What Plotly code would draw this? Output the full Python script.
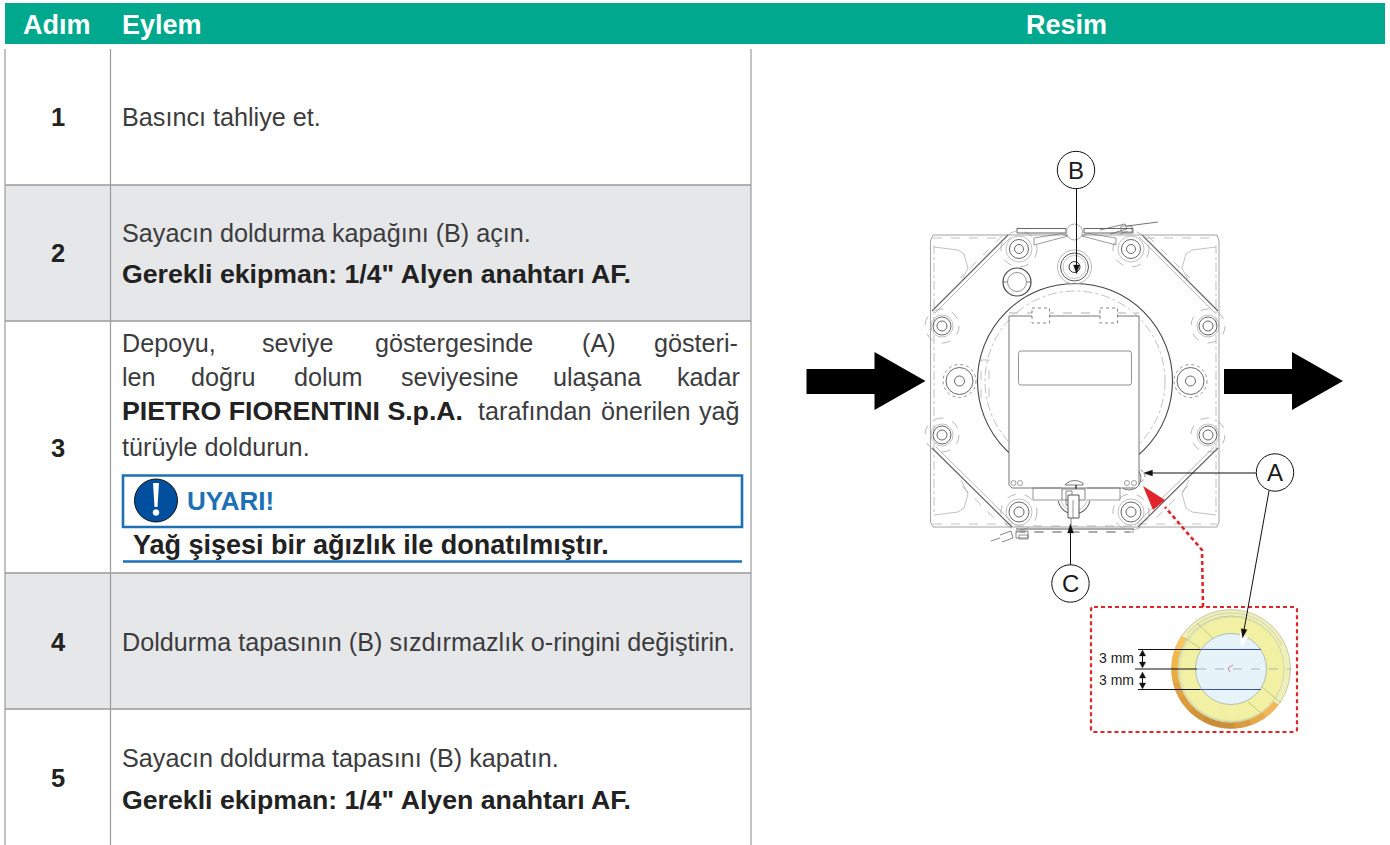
import numpy as np
import plotly.graph_objects as go

W, H = 1390, 845
FONT = "Liberation Sans"
INK = "#3c3c3e"
GREEN = "#00A88E"
BAND = "#E6E7E9"
RULE = "#9b9b9b"
BLUE = "#1E70B4"
RED = "#E1262B"
DRAW = "#6f6f6f"
DASH = "#a6a6a6"

header_labels = ["Adım", "Eylem", "Resim"]
step_labels = ["1", "2", "3", "4", "5"]
row_edges = [185, 321, 573, 709]

plain_lines = [
    ("Basıncı tahliye et.", 122, 117, False),
    ("Sayacın doldurma kapağını (B) açın.", 122, 233, False),
    ('Gerekli ekipman: 1/4" Alyen anahtarı AF.', 122, 274, True),
    ("türüyle doldurun.", 122, 447, False),
    ("Doldurma tapasının (B) sızdırmazlık o-ringini değiştirin.", 122, 642, False),
    ("Sayacın doldurma tapasını (B) kapatın.", 122, 758, False),
    ('Gerekli ekipman: 1/4" Alyen anahtarı AF.', 122, 800, True),
]
justified_words = [
    ("Depoyu,", 122, 343, False), ("seviye", 262, 343, False), ("göstergesinde", 375, 343, False),
    ("(A)", 582, 343, False), ("gösteri-", 654, 343, False),
    ("len", 122, 377, False), ("doğru", 191, 377, False), ("dolum", 294, 377, False),
    ("seviyesine", 401, 377, False), ("ulaşana", 553, 377, False), ("kadar", 677, 377, False),
    ("PIETRO FIORENTINI S.p.A.", 122, 411, True), ("tarafından", 478, 411, False),
    ("önerilen", 601, 411, False), ("yağ", 699, 411, False),
]
warning_title = "UYARI!"
warning_text = "Yağ şişesi bir ağızlık ile donatılmıştır."
callouts = ["A", "B", "C"]
gauge_label = "3 mm"

shapes, notes = [], []


def line(x0, y0, x1, y1, color=DRAW, width=0.8, dash="solid"):
    shapes.append(dict(type="line", xref="x", yref="y", x0=x0, y0=y0, x1=x1, y1=y1,
                       line=dict(color=color, width=width, dash=dash)))


def rect(x0, y0, x1, y1, fill=None, color=None, width=0, dash="solid"):
    shapes.append(dict(type="rect", xref="x", yref="y", x0=x0, y0=y0, x1=x1, y1=y1,
                       fillcolor=fill or "rgba(0,0,0,0)",
                       line=dict(color=color or "rgba(0,0,0,0)", width=width, dash=dash)))


def circle(cx, cy, r, color=DRAW, width=0.8, dash="solid", fill=None):
    shapes.append(dict(type="circle", xref="x", yref="y", x0=cx - r, y0=cy - r, x1=cx + r, y1=cy + r,
                       fillcolor=fill or "rgba(0,0,0,0)",
                       line=dict(color=color, width=width, dash=dash)))


def poly(points, color=DRAW, width=0.8, dash="solid", fill=None, close=False):
    d = "M" + " L".join(f"{x:.2f},{y:.2f}" for x, y in points) + (" Z" if close else "")
    shapes.append(dict(type="path", xref="x", yref="y", path=d,
                       fillcolor=fill or "rgba(0,0,0,0)",
                       line=dict(color=color if width else "rgba(0,0,0,0)", width=width, dash=dash)))


def arc(cx, cy, r, a0, a1, n=36):
    t = np.radians(np.linspace(a0, a1, n))
    return list(zip(cx + r * np.cos(t), cy - r * np.sin(t)))


def text(s, x, y, size=25, bold=False, color=INK, anchor="left"):
    notes.append(dict(xref="x", yref="y", x=x, y=y, text=f"<b>{s}</b>" if bold else s, showarrow=False,
                      xanchor=anchor, yanchor="middle",
                      font=dict(family=FONT, size=size, color=color),
                      borderpad=0, borderwidth=0))


def mirror(x):
    return 2150 - x


def arrowhead(tx, ty, ux, uy, length=9, half=3, color="#111111"):
    px, py = -uy, ux
    poly([(tx, ty), (tx - ux * length + px * half, ty - uy * length + py * half),
          (tx - ux * length - px * half, ty - uy * length - py * half)],
         color=color, width=0.3, fill=color, close=True)


# ---- table ----
rect(5, 3, 1385, 44, fill=GREEN)
rect(5, row_edges[0], 751, row_edges[1], fill=BAND)
rect(5, row_edges[2], 751, row_edges[3], fill=BAND)
for y in row_edges:
    line(5, y, 751, y, RULE, 1.6)
for x in (5, 110.5, 751):
    line(x, 49, x, H, RULE, 1.2)

text(header_labels[0], 57, 25, 27, True, "white", "center")
text(header_labels[1], 122, 25, 27, True, "white")
text(header_labels[2], 1066, 25, 27, True, "white", "center")
for s, y in zip(step_labels, [117, 253, 448, 642, 778]):
    text(s, 58, y, 25.5, True, "#222222", "center")
for s, x, y, b in plain_lines + justified_words:
    text(s, x, y, 26.7 if b else 25.2, b, "#222222" if b else INK)

# ---- warning ----
rect(123, 475.5, 742, 527, color=BLUE, width=2.6)
circle(156, 500.5, 21.5, "#111111", 1, fill="#004F9F")
poly([(153, 483), (159, 483), (157.5, 507), (154.5, 507)], width=0, fill="white", close=True)
circle(156, 512.5, 3, "white", 0.5, fill="white")
text(warning_title, 187, 501, 26, True, BLUE)
text(warning_text, 133, 545, 27, True, "#222222")
line(123, 561.5, 742, 561.5, BLUE, 2.6)

# ---- flow arrows ----
for x0 in (806.5, 1224):
    poly([(x0, 369), (x0 + 68, 369), (x0 + 68, 352), (x0 + 119, 381), (x0 + 68, 410),
          (x0 + 68, 394), (x0, 394)], width=0, fill="black", close=True)

# ---- meter body ----
poly([(930.5, 241), (933, 235), (1217, 235), (1219, 241), (1219, 522), (1217, 527), (933, 527), (930.5, 522)],
     color="#8a8a8a", close=True)
line(933, 238, 1004, 238, DASH, 0.7, "dash")
line(1146, 238, 1217, 238, DASH, 0.7, "dash")
line(933, 524, 1012, 524, DASH, 0.7, "dash")
line(1138, 524, 1217, 524, DASH, 0.7, "dash")
line(934, 245, 934, 515, DASH, 0.7, "dashdot")
line(1216, 245, 1216, 515, DASH, 0.7, "dashdot")

for sign in (0, 1):
    m = (lambda x: mirror(x)) if sign else (lambda x: x)
    # chamfers, top
    line(m(1008), 235, m(932), 311, "#666666", 1.2)
    line(m(1011), 237, m(935), 313, DASH, 0.8)
    line(m(1002), 236, m(960), 278, DASH, 0.7, "dash")
    # chamfers, bottom
    line(m(932), 448, m(1012), 527, "#666666", 1.2)
    line(m(936), 447, m(1015), 525, DASH, 0.8)
    line(m(962), 486, m(1000), 524, DASH, 0.7, "dash")
    # corner pockets
    poly([(m(934), 247), (m(958), 250), (m(964), 254), (m(968), 268), (m(961), 282)], color=DASH, width=0.7)
    poly([(m(934), 515), (m(958), 512), (m(964), 508), (m(968), 494), (m(961), 480)], color=DASH, width=0.7)
    # side bolts and middle bolts
    for cy in (326, 435):
        circle(m(942), cy, 5, "#555555", 0.9)
        circle(m(942), cy, 9, "#555555", 0.9)
        circle(m(942), cy, 11, DASH, 0.7)
        circle(m(942), cy, 17, DASH, 0.8, "dash")
    circle(m(959.5), 381, 16.5, "#777777", 0.8, "dot")
    circle(m(959.5), 381, 13.5, "#555555", 0.9)
    circle(m(959.5), 381, 5, "#555555", 0.9)
    # cover screws
    circle(m(1019), 249, 4.5, "#555555", 0.9)
    circle(m(1019), 249, 9.5, "#555555", 0.9)
    circle(m(1019), 249, 13, DASH, 0.7)
    circle(m(1019), 249, 18, DASH, 0.8, "dash")
    circle(m(1019), 512, 5, "#555555", 0.9)
    circle(m(1019), 512, 10, "#555555", 0.9)
    circle(m(1019), 512, 13, DASH, 0.7)
    circle(m(1019), 512, 18, DASH, 0.8, "dash")
    # top clips: a flat tube and a tapered spring below it
    rect(m(1017), 228.5, m(1066), 233, color="#555555", width=0.9)
    poly([(m(1034), 238), (m(1062), 233.5), (m(1068), 236), (m(1034), 245)], color=DRAW, width=0.7)
    line(m(1034), 238, m(1034), 245, DRAW, 0.7)
    line(m(1016), 532, m(1130), 532, DRAW, 0.7, "dash")

line(1016, 529, 1134, 529, "#555555", 1.0)
line(1015, 526, 1135, 526, DASH, 0.8, "dash")

# big cover
circle(1075, 381, 97.5, "#444444", 1.1, fill="white")
circle(1075, 381, 90, DASH, 0.7, "dashdot")
rect(981, 360, 989, 398, color=DASH, width=0.7, dash="dash")

# fill plug and side plug
circle(1074.5, 267, 17, DASH, 0.8)
circle(1074.5, 267, 14, "#555555", 1.0, fill="white")
circle(1074.5, 267, 11.5, "#999999", 0.6)
circle(1074.5, 267, 5.5, "#333333", 1.0)
circle(1017, 282, 14, "#444444", 1.2, fill="white")
circle(1017, 282, 9.5, "#777777", 0.8)
line(1003, 282, 1007, 282, "#555555", 0.8)
line(1027, 282, 1031, 282, "#555555", 0.8)

# nameplate
circle(1129, 476, 9, "#777777", 0.7, "dot")
circle(1129, 478, 12, "#555555", 0.8)
poly([(1009, 316), (1009, 485), (1012, 488), (1136, 488), (1139, 485), (1139, 316), (1009, 316)],
     color="#666666", width=0.9, fill="white", close=True)
line(1009, 313, 1139, 313, DASH, 0.9, "dash")
for x0 in (1032, 1100):
    rect(x0, 308, x0 + 17.5, 323, fill="white", color="#666666", width=0.8, dash="dot")
shapes.append(dict(type="path", xref="x", yref="y",
                   path="M1021,351 L1129,351 Q1131.5,351 1131.5,353.5 L1131.5,382.5 Q1131.5,385 1129,385 "
                        "L1021,385 Q1018.5,385 1018.5,382.5 L1018.5,353.5 Q1018.5,351 1021,351 Z",
                   line=dict(color="#777777", width=0.8)))
for x in (1013.5, 1020, 1127, 1134):
    circle(x, 483, 2.5, "#777777", 0.7)

# side hole with level glass
poly(arc(1139, 476, 6, 75, -75, 10), color="#666666", width=0.8, dash="dot")

# valve and bottom hardware
line(1033, 488, 1062, 488, DRAW, 0.7)
line(1087, 488, 1120, 488, DRAW, 0.7)
line(1033, 500, 1062, 500, DRAW, 0.7)
line(1087, 500, 1120, 500, DRAW, 0.7)
line(1033, 488, 1033, 500, DRAW, 0.7)
line(1120, 488, 1120, 500, DRAW, 0.7)
poly(arc(1074, 498, 16, 190, 350, 16), color="#666666", width=1.1)
poly(arc(1074, 498, 13, 190, 350, 16), color=DASH, width=0.7)
shapes.append(dict(type="path", xref="x", yref="y",
                   path="M1067,483 Q1074,478 1083,483 L1083,485 L1065,485 Z",
                   fillcolor="white", line=dict(color="#555555", width=0.8)))
line(1076, 485, 1076, 491, "#444444", 1.6)
rect(1062, 489, 1085, 500, fill="white", color="#666666", width=0.8)
rect(1066, 491, 1072, 505, color="#555555", width=0.7)
rect(1068, 495, 1079, 518, fill="white", color="#444444", width=0.9)
line(1073, 500, 1073, 518, "#666666", 0.7)
line(1071, 518, 1071, 525, "#666666", 0.8)

# clips on the outside
poly([(1100, 230), (1125, 224), (1127, 229), (1110, 234)], color="#666666", width=0.8)
line(1127, 226, 1158, 222, "#666666", 0.9)
rect(1121, 226, 1132, 232, color="#666666", width=0.7)
poly([(1000, 535), (1011, 531), (1013, 538), (1002, 542)], color="#666666", width=0.8)
line(991, 541, 1000, 538, "#666666", 0.8)
rect(1016, 531, 1028, 538, color="#666666", width=0.8)
rect(1019, 535, 1028, 539, color="#666666", width=0.7)
circle(1074.5, 232, 8, "#888888", 0.7, fill="white")

# ---- callouts ----
for label, cx, cy in [(callouts[0], 1275, 472.5), (callouts[1], 1076, 170), (callouts[2], 1070.5, 583.5)]:
    circle(cx, cy, 18.7, "#111111", 1.0, fill="white")
    text(label, cx, cy, 24, False, "#1a1a1a", "center")
line(1076.5, 189, 1076.5, 266, "#111111", 1.0)
arrowhead(1076.5, 274, 0, 1)
line(1070.5, 565, 1070.5, 532, "#111111", 1.0)
arrowhead(1070.5, 524, 0, -1)
line(1256, 473, 1152, 473, "#111111", 1.0)
arrowhead(1143.5, 473, -1, 0)

# ---- red detail link ----
poly([(1203, 607), (1202, 550), (1165, 507)], color=RED, width=2.6, dash="4px,3px")
poly([(1143, 486), (1165, 500), (1153, 510)], width=0, fill=RED, close=True)
shapes.append(dict(type="path", xref="x", yref="y",
                   path="M1094,607 L1294,607 Q1297,607 1297,610 L1297,729 Q1297,732 1294,732 "
                        "L1094,732 Q1091,732 1091,729 L1091,610 Q1091,607 1094,607 Z",
                   line=dict(color=RED, width=2.2, dash="4px,3px")))

# ---- level gauge ----
GX, GY = 1231, 669
circle(GX, GY, 59.5, "#c9c9b8", 1.0, fill="#EFEFB8")
seg_colors = ["#F8C55C", "#F3B64A", "#EBAA43", "#E3A240", "#DB9A3C", "#D2933A", "#C98D38", "#CC9039",
              "#DA9C40", "#E8A848", "#F3B658"]
seg_edges = np.linspace(146, 322, len(seg_colors) + 1)
for col, a0, a1 in zip(seg_colors, seg_edges[:-1], seg_edges[1:]):
    poly(arc(GX, GY, 56.5, a0, a1 + 1, 10), color=col, width=6)
circle(GX, GY, 53, "#B9C08C", 0.8)
circle(GX + 1, GY, 52, "#d9d9b4", 0.7, fill="#F2F0A2")
poly(arc(GX, GY, 56, 25, 140, 30), color="#C9C9A8", width=0.8)
line(1197, 623, 1216, 641, "#B9C08C", 0.9)
line(1185, 638, 1200, 648, "#B9C08C", 0.9)
line(1248, 702, 1266, 717, "#B9C08C", 0.9)
line(1262, 687, 1281, 703, "#B9C08C", 0.9)
circle(GX, GY, 35.5, "#AFC0B4", 1.0, fill="#E6F3F8")
for y in (649.5, 689.5):
    line(1138, y, 1200, y, "#111111", 1.0)
    line(1200, y, 1261, y, "#3B4EA8", 1.1)
line(1135, 669, 1197, 669, "#111111", 1.0)
line(1197, 669, 1291, 669, "#9aa7a7", 0.8, "dash")
poly([(1230, 672), (1228, 668), (1233, 665)], color="#D9607A", width=0.8)
for y0, y1 in [(650, 668), (672, 689)]:
    line(1142.5, y0 + 3, 1142.5, y1 - 3, "#111111", 1.0)
    arrowhead(1142.5, y0, 0, -1, 6, 3.2)
    arrowhead(1142.5, y1, 0, 1, 6, 3.2)
text(gauge_label, 1116.5, 658, 14, False, "#222222", "center")
text(gauge_label, 1116.5, 680, 14, False, "#222222", "center")
poly([(1240, 632), (1248, 637), (1241, 648)], width=0, fill="white", close=True)
line(1269, 491, 1244, 630, "#111111", 1.0)
arrowhead(1242.5, 638, -0.18, 0.98)

fig = go.Figure(go.Scatter(x=[0, W], y=[0, H], mode="markers", marker=dict(opacity=0), hoverinfo="skip",
                           showlegend=False))
fig.update_layout(
    width=W, height=H, margin=dict(l=0, r=0, t=0, b=0),
    paper_bgcolor="white", plot_bgcolor="white", showlegend=False,
    xaxis=dict(range=[0, W], visible=False, fixedrange=True),
    yaxis=dict(range=[H, 0], visible=False, fixedrange=True),
    shapes=shapes, annotations=notes,
)
fig.write_html("out.html", config=dict(displayModeBar=False),
               post_script="document.body.style.margin='0';document.body.style.overflow='hidden';")
